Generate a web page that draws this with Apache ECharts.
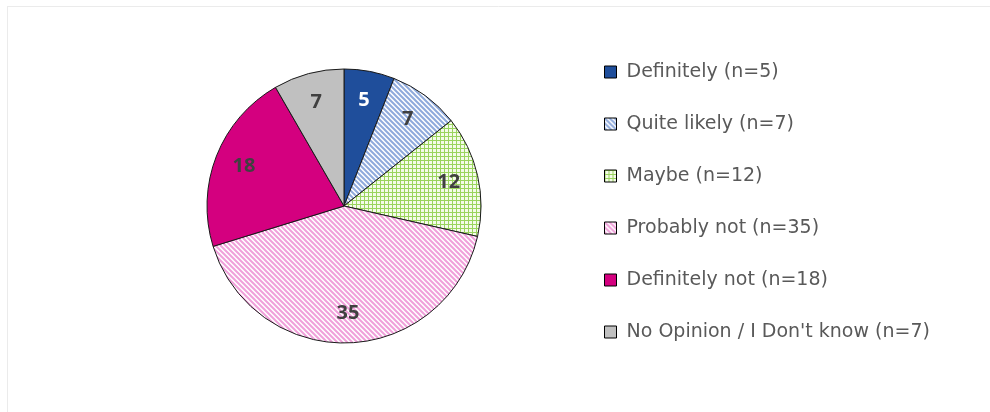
<!DOCTYPE html>
<html>
<head>
<meta charset="utf-8">
<script src="https://cdn.jsdelivr.net/npm/echarts@6/dist/echarts.min.js"></script>
<style>
  html, body { margin: 0; padding: 0; background: #fff; }
  #chart { width: 990px; height: 412px; }
</style>
</head>
<body>
<div id="chart"></div>
<script>
const categories = ['Definitely', 'Quite likely', 'Maybe', 'Probably not', 'Definitely not', 'No Opinion / I Don\'t know']
const counts = [5, 7, 12, 35, 18, 7]

// stripes / grid fills, like the excel pattern fills
function makePattern(kind, bg, fg) {
    const c = document.createElement('canvas')
    const s = kind === 'grid' ? 4 : 5
    c.width = s
    c.height = s
    const ctx = c.getContext('2d')
    ctx.fillStyle = bg
    ctx.fillRect(0, 0, s, s)
    ctx.fillStyle = fg
    if (kind === 'grid') {
        ctx.fillRect(0, 0, s, 1)
        ctx.fillRect(0, 0, 1, s)
    } else {
        ctx.strokeStyle = fg
        ctx.lineWidth = 2
        ctx.beginPath()
        ctx.moveTo(-1, -1); ctx.lineTo(s + 1, s + 1)
        ctx.moveTo(-1, s - 1); ctx.lineTo(1, s + 1)
        ctx.moveTo(s - 1, -1); ctx.lineTo(s + 1, 1)
        ctx.stroke()
    }
    return { image: c, repeat: 'repeat' }
}

const fills = [
    '#1f4e9b',
    makePattern('stripe', '#ffffff', '#8faadc'),
    makePattern('grid', '#f4fbe9', '#9ad45e'),
    makePattern('stripe', '#ffffff', '#f0a0da'),
    '#d4007f',
    '#c0c0c0'
]
const labelColors = ['#ffffff', '#404040', '#404040', '#404040', '#404040', '#404040']

const myChart = echarts.init(document.getElementById('chart'))

const pieData = categories.map((name, i) => ({
    name: name + ' (n=' + counts[i] + ')',
    value: counts[i],
    itemStyle: { color: fills[i] }
}))

const labelData = categories.map((name, i) => ({
    name: name + ' (n=' + counts[i] + ')',
    value: counts[i],
    label: { color: labelColors[i] }
}))

const option = {
    backgroundColor: '#ffffff',
    animation: false,
    legend: {
        orient: 'vertical',
        left: 599,
        top: 57,
        itemWidth: 12,
        itemHeight: 12,
        itemGap: 32,
        icon: 'rect',
        data: pieData.map(d => d.name),
        itemStyle: { borderColor: '#000000', borderWidth: 1 },
        textStyle: {
            fontFamily: 'DejaVu Sans',
            fontSize: 19,
            color: '#595959',
            lineHeight: 20,
            padding: [0, 0, 0, 5]
        }
    },
    graphic: [
        { type: 'line', shape: { x1: 7, y1: 6.5, x2: 990, y2: 6.5 }, style: { stroke: '#ebebeb', lineWidth: 1 } },
        { type: 'line', shape: { x1: 7.5, y1: 6, x2: 7.5, y2: 412 }, style: { stroke: '#ebebeb', lineWidth: 1 } }
    ],
    series: [
        {
            type: 'pie',
            center: [344, 206],
            radius: 137,
            startAngle: 90,
            clockwise: true,
            avoidLabelOverlap: false,
            label: { show: false },
            labelLine: { show: false },
            emphasis: { disabled: true },
            itemStyle: { borderColor: '#1a1a1a', borderWidth: 1 },
            data: pieData
        },
        {
            // only carries the value labels, a bit further out than 'inside'
            type: 'pie',
            center: [344, 206],
            radius: [72, 137],
            startAngle: 90,
            clockwise: true,
            silent: true,
            avoidLabelOverlap: false,
            itemStyle: { color: 'rgba(0,0,0,0)' },
            emphasis: { disabled: true },
            labelLine: { show: false },
            label: {
                show: true,
                position: 'inside',
                formatter: '{c}',
                fontFamily: 'Open Sans',
                fontWeight: 'bold',
                fontSize: 20
            },
            data: labelData
        }
    ]
}

myChart.setOption(option)
</script>
</body>
</html>
